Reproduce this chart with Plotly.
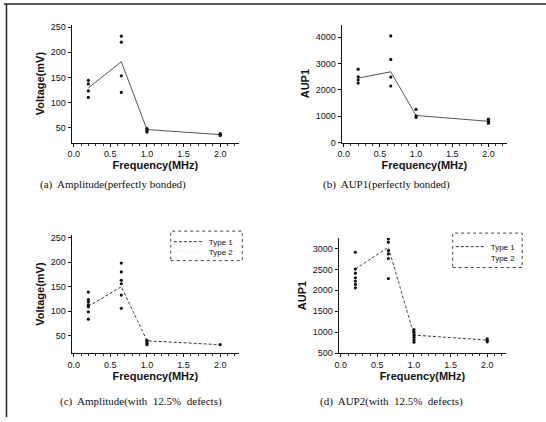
import plotly.graph_objects as go

W, H = 546, 422

freq = [0.2, 0.65, 1.0, 2.0]

# (a) Amplitude, perfectly bonded
a_line = [129, 181, 46, 36]
a_pts = {0.2: [144, 137, 123, 110], 0.65: [232, 220, 153, 120],
         1.0: [48, 45, 43, 41], 2.0: [38, 36, 34]}

# (b) AUP1, perfectly bonded
b_line = [2450, 2690, 1030, 810]
b_pts = {0.2: [2790, 2500, 2380, 2260], 0.65: [4050, 3160, 2490, 2150],
         1.0: [1260, 1020, 960], 2.0: [890, 810, 740]}

# (c) Amplitude, 12.5% defects
c_type1 = [110, 150, 40, 32]
c_type2 = [113, 155, 37, 31]
c_pts = {0.2: [139, 124, 119, 113, 109, 99, 84], 0.65: [198, 180, 163, 156, 133, 106],
         1.0: [41, 38, 35, 32], 2.0: [32]}

# (d) AUP2, 12.5% defects
d_type1 = [2510, 3030, 930, 810]
d_type2 = [2520, 3010, 950, 820]
d_pts = {0.2: [2910, 2510, 2410, 2300, 2220, 2140, 2060],
         0.65: [3310, 3230, 3150, 2950, 2870, 2760, 2280],
         1.0: [1060, 1000, 940, 880, 820, 760], 2.0: [840, 800, 770]}

x_ticks = [0.0, 0.5, 1.0, 1.5, 2.0]
x_ticktext = ["0.0", "0.5", "1.0", "1.5", "2.0"]
captions = ["(a)  Amplitude(perfectly bonded)", "(b)  AUP1(perfectly bonded)",
            "(c)  Amplitude(with  12.5%  defects)", "(d)  AUP2(with  12.5%  defects)"]
series_names = ["Type 1", "Type 2"]

def px_x(p):
    return p / W

def px_y(p):
    return 1 - p / H

fig = go.Figure()

def add_points(pts, xa, ya):
    xs, ys = [], []
    for f, vals in pts.items():
        for v in vals:
            xs.append(f)
            ys.append(v)
    fig.add_trace(go.Scatter(x=xs, y=ys, mode="markers", xaxis=xa, yaxis=ya,
                             marker=dict(color="#111", size=3.2), showlegend=False,
                             hoverinfo="skip"))

type1_line = dict(color="#333", width=1, dash="3px,2px")
type2_line = dict(color="#d8d8d8", width=0.7, dash="1px,2px")

# (a)
fig.add_trace(go.Scatter(x=freq, y=a_line, mode="lines", xaxis="x", yaxis="y",
                         line=dict(color="#555", width=1), showlegend=False))
add_points(a_pts, "x", "y")
# (b)
fig.add_trace(go.Scatter(x=freq, y=b_line, mode="lines", xaxis="x2", yaxis="y2",
                         line=dict(color="#555", width=1), showlegend=False))
add_points(b_pts, "x2", "y2")
# (c)
fig.add_trace(go.Scatter(x=freq, y=c_type1, mode="lines", xaxis="x3", yaxis="y3",
                         name=series_names[0], legend="legend", line=type1_line))
fig.add_trace(go.Scatter(x=freq, y=c_type2, mode="lines", xaxis="x3", yaxis="y3",
                         name=series_names[1], legend="legend2", line=type2_line))
add_points(c_pts, "x3", "y3")
# (d)
fig.add_trace(go.Scatter(x=freq, y=d_type1, mode="lines", xaxis="x4", yaxis="y4",
                         name=series_names[0], legend="legend3", line=type1_line))
fig.add_trace(go.Scatter(x=freq, y=d_type2, mode="lines", xaxis="x4", yaxis="y4",
                         name=series_names[1], legend="legend4", line=type2_line))
add_points(d_pts, "x4", "y4")

tickfont = dict(family="Liberation Sans", size=9, color="#111")
titlefont = dict(family="Liberation Sans", size=11, color="#111", weight="bold")

def xaxis(dom, anchor):
    return dict(domain=dom, anchor=anchor, range=[-0.03, 2.26],
                tickvals=x_ticks, ticktext=x_ticktext, ticks="outside", ticklen=3,
                tickwidth=1, tickcolor="#111", showline=True, linecolor="#111", linewidth=1,
                showgrid=False, zeroline=False, tickfont=tickfont,
                minor=dict(dtick=0.1, ticks="outside", ticklen=2, tickcolor="#333"),
                title=dict(text="Frequency(MHz)", font=titlefont, standoff=0))

def yaxis(dom, anchor, rng, vals, title):
    return dict(domain=dom, anchor=anchor, range=rng, tickvals=vals,
                ticks="outside", ticklen=3, tickwidth=1, tickcolor="#111",
                showline=True, linecolor="#111", linewidth=1, showgrid=False,
                zeroline=False, tickfont=tickfont,
                title=dict(text=title, font=titlefont, standoff=3))

def legend(xp, yp):
    return dict(x=px_x(xp), y=px_y(yp), xanchor="left", yanchor="top",
                bgcolor="rgba(0,0,0,0)", borderwidth=0, itemwidth=30,
                font=dict(family="Liberation Sans", size=8, color="#111"))

ax_a = [px_x(68), px_x(237)]
ax_b = [px_x(340), px_x(507)]
ax_c = [px_x(68), px_x(237)]
ax_d = [px_x(337), px_x(506)]
top_row = [px_y(143), px_y(23)]
bot_row_c = [px_y(357), px_y(237)]
bot_row_d = [px_y(357), px_y(240)]

fig.update_layout(
    width=W, height=H, margin=dict(l=0, r=0, t=0, b=0),
    paper_bgcolor="white", plot_bgcolor="white",
    xaxis=xaxis(ax_a, "y"),
    yaxis=yaxis(top_row, "x", [20, 255], [50, 100, 150, 200, 250], "Voltage(mV)"),
    xaxis2=xaxis(ax_b, "y2"),
    yaxis2=yaxis(top_row, "x2", [0, 4480], [0, 1000, 2000, 3000, 4000], "AUP1"),
    xaxis3=xaxis(ax_c, "y3"),
    yaxis3=yaxis(bot_row_c, "x3", [15, 255], [50, 100, 150, 200, 250], "Voltage(mV)"),
    xaxis4=xaxis(ax_d, "y4"),
    yaxis4=yaxis(bot_row_d, "x4", [500, 3250], [500, 1000, 1500, 2000, 2500, 3000], "AUP1"),
    legend=legend(166, 229),
    legend2=legend(166, 239),
    legend3=legend(450, 234),
    legend4=legend(450, 245),
)

shapes = [
    dict(type="line", xref="paper", yref="paper", x0=0, x1=1, y0=px_y(2), y1=px_y(2),
         line=dict(color="#222", width=1.5)),
    dict(type="line", xref="paper", yref="paper", x0=px_x(2.5), x1=px_x(2.5), y0=0, y1=px_y(2),
         line=dict(color="#222", width=1.5)),
    dict(type="rect", xref="paper", yref="paper", x0=px_x(168), x1=px_x(240),
         y0=px_y(263), y1=px_y(233), line=dict(color="#444", width=1, dash="dot")),
    dict(type="rect", xref="paper", yref="paper", x0=px_x(452), x1=px_x(522),
         y0=px_y(270), y1=px_y(235), line=dict(color="#444", width=1, dash="dot")),
]
fig.update_layout(shapes=shapes)

cap_pos = [(110, 186), (385, 186), (138, 406), (390, 406)]
for text, (cx, cy) in zip(captions, cap_pos):
    fig.add_annotation(text=text, x=px_x(cx), y=px_y(cy), xref="paper", yref="paper",
                       showarrow=False, xanchor="center", yanchor="middle",
                       font=dict(family="Liberation Serif", size=11, color="#111"))

fig.write_html("out.html")
